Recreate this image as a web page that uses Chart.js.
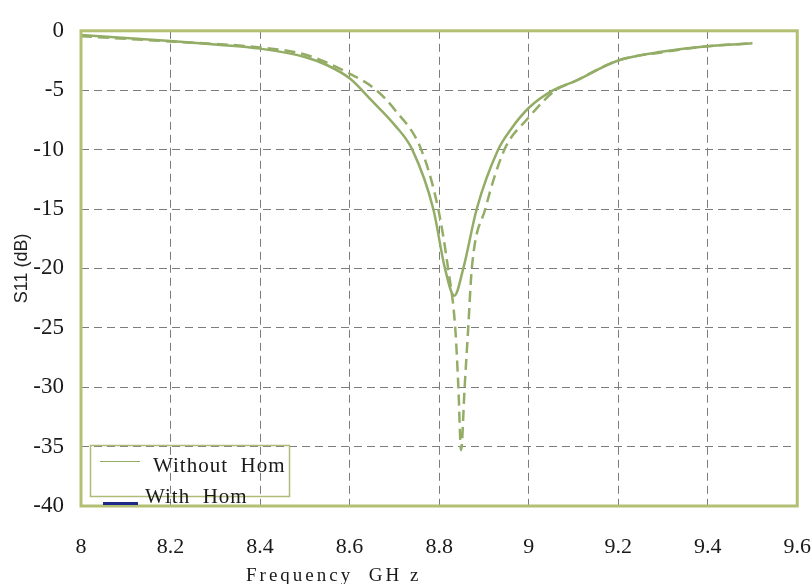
<!DOCTYPE html>
<html>
<head>
<meta charset="utf-8">
<script src="https://cdn.jsdelivr.net/npm/chart.js@4/dist/chart.umd.min.js"></script>
<style>
  html, body { margin: 0; padding: 0; background: #fff; }
  #wrap { width: 811px; height: 584px; }
</style>
</head>
<body>
<div id="wrap"><canvas id="s11Chart" width="811" height="584"></canvas></div>
<script>
// Without Horn (solid)
var freqWithout = [8.0, 8.1, 8.2, 8.3, 8.4, 8.5, 8.55, 8.6, 8.65, 8.7, 8.74, 8.787, 8.813, 8.834, 8.854, 8.884, 8.932, 8.96, 9.0, 9.055, 9.1, 9.2, 9.3, 9.4, 9.5];
var s11Without  = [-0.35, -0.6, -0.85, -1.15, -1.5, -2.2, -2.9, -4.0, -5.9, -7.9, -10, -15, -20, -22.3, -20, -15, -10, -8.3, -6.5, -5.0, -4.3, -2.5, -1.75, -1.3, -1.05];
// With Horn (dashed)
var freqWith = [8.0, 8.2, 8.4, 8.5, 8.6, 8.66, 8.7, 8.76, 8.798, 8.82, 8.836, 8.843, 8.849, 8.857, 8.865, 8.873, 8.903, 8.946, 9.0, 9.06, 9.1, 9.2, 9.3, 9.4, 9.5];
var s11With  = [-0.45, -0.9, -1.4, -2.0, -3.6, -5.0, -6.6, -10, -15, -20, -25, -30, -35.3, -30, -25, -20, -15, -10, -7.3, -5.0, -4.3, -2.5, -1.8, -1.3, -1.05];

var legendLabels = ["Without  Hom", "With  Hom"];
var xTitle = "Frequency  GH z";
var yTitle = "S11 (dB)";

var lineColor = "#93ad66";
var frameColor = "#b3bf72";
var gridColor = "#7c7c7c";
var serif = "'Liberation Serif', 'Times New Roman', serif";

function toPoints(xs, ys) {
  return xs.map(function (x, i) { return { x: x, y: ys[i] }; });
}

var frameAndLegend = {
  id: "frameAndLegend",
  afterDatasetsDraw: function (chart) {
    var ctx = chart.ctx, a = chart.chartArea;
    ctx.save();
    // plot frame
    ctx.strokeStyle = frameColor;
    ctx.lineWidth = 3;
    ctx.strokeRect(a.left, a.top, a.right - a.left, a.bottom - a.top);

    // legend box
    ctx.lineWidth = 1.5;
    ctx.strokeStyle = "#b0bb78";
    ctx.strokeRect(90.5, 445.5, 199, 51);
    ctx.strokeStyle = lineColor;
    ctx.lineWidth = 1;
    ctx.beginPath(); ctx.moveTo(100, 461.5); ctx.lineTo(140, 461.5); ctx.stroke();
    ctx.strokeStyle = "#1d2a8a";
    ctx.lineWidth = 3;
    ctx.beginPath(); ctx.moveTo(103, 503.5); ctx.lineTo(138, 503.5); ctx.stroke();

    ctx.fillStyle = "#1a1a1a";
    ctx.font = "21px " + serif;
    ctx.textAlign = "left";
    ctx.textBaseline = "alphabetic";
    ctx.letterSpacing = "1px";
    ctx.fillText(legendLabels[0], 153, 472);
    ctx.fillText(legendLabels[1], 145, 503);

    // x axis title
    ctx.font = "19px " + serif;
    ctx.letterSpacing = "3px";
    ctx.fillText(xTitle, 246, 581);
    ctx.restore();
  }
};

var chart = new Chart("s11Chart", {
  type: "line",
  data: {
    datasets: [
      {
        label: legendLabels[0],
        data: toPoints(freqWithout, s11Without),
        borderColor: lineColor,
        borderWidth: 2.5,
        pointRadius: 0,
        fill: false,
        cubicInterpolationMode: "monotone"
      },
      {
        label: legendLabels[1],
        data: toPoints(freqWith, s11With),
        borderColor: lineColor,
        borderWidth: 2.5,
        borderDash: [11, 6],
        pointRadius: 0,
        fill: false,
        cubicInterpolationMode: "monotone"
      }
    ]
  },
  options: {
    responsive: false,
    animation: false,
    layout: { padding: { left: 0, right: 2, top: 29, bottom: 0 } },
    plugins: {
      legend: { display: false },
      tooltip: { enabled: false }
    },
    scales: {
      x: {
        type: "linear",
        min: 8,
        max: 9.6,
        ticks: {
          stepSize: 0.2,
          padding: 0,
          color: "#1a1a1a",
          font: { family: serif, size: 22 },
          maxRotation: 0,
          autoSkip: false,
          callback: function (v) { return String(Math.round(v * 10) / 10); }
        },
        grid: {
          color: gridColor,
          lineWidth: 1,
          drawTicks: true,
          tickLength: 28,
          tickColor: "rgba(0,0,0,0)"
        },
        border: { display: false, dash: [8, 5] },
        afterFit: function (scale) { scale.height = 78; }
      },
      y: {
        min: -40,
        max: 0,
        ticks: {
          stepSize: 5,
          padding: 17,
          color: "#1a1a1a",
          font: { family: serif, size: 23 }
        },
        grid: {
          color: gridColor,
          lineWidth: 1,
          drawTicks: false
        },
        border: { display: false, dash: [8, 5] },
        title: {
          display: true,
          text: yTitle,
          color: "#222",
          font: { family: "'Liberation Sans', Arial, sans-serif", size: 18 },
          padding: { top: 11, bottom: 0 }
        },
        afterFit: function (scale) { scale.width = 81; }
      }
    }
  },
  plugins: [frameAndLegend]
});
</script>
</body>
</html>
